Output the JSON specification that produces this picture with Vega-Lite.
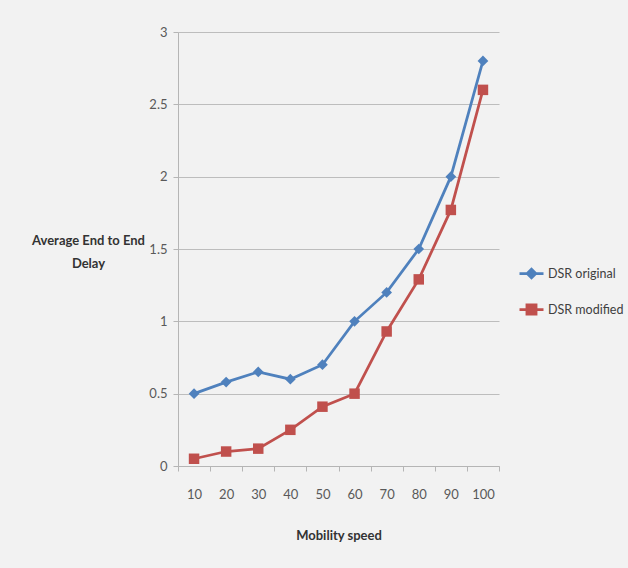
{
  "$schema": "https://vega.github.io/schema/vega-lite/v6.json",
  "width": 321,
  "height": 434,
  "autosize": {"type": "none"},
  "padding": {"left": 178, "top": 32, "right": 129, "bottom": 102},
  "background": "#f2f2f2",
  "config": {
    "view": {"stroke": null},
    "font": "Lato",
    "axis": {
      "domainColor": "#b5b5b5",
      "tickColor": "#b5b5b5",
      "gridColor": "#bdbdbd",
      "labelColor": "#595959",
      "labelFontSize": 13,
      "titleColor": "#333333",
      "titleFontSize": 13,
      "titleFontWeight": "bold",
      "tickSize": 5
    }
  },
  "data": {
    "values": [
      {"speed": 10, "series": "DSR original", "delay": 0.5},
      {"speed": 20, "series": "DSR original", "delay": 0.58},
      {"speed": 30, "series": "DSR original", "delay": 0.65},
      {"speed": 40, "series": "DSR original", "delay": 0.6},
      {"speed": 50, "series": "DSR original", "delay": 0.7},
      {"speed": 60, "series": "DSR original", "delay": 1.0},
      {"speed": 70, "series": "DSR original", "delay": 1.2},
      {"speed": 80, "series": "DSR original", "delay": 1.5},
      {"speed": 90, "series": "DSR original", "delay": 2.0},
      {"speed": 100, "series": "DSR original", "delay": 2.8},
      {"speed": 10, "series": "DSR modified", "delay": 0.05},
      {"speed": 20, "series": "DSR modified", "delay": 0.1},
      {"speed": 30, "series": "DSR modified", "delay": 0.12},
      {"speed": 40, "series": "DSR modified", "delay": 0.25},
      {"speed": 50, "series": "DSR modified", "delay": 0.41},
      {"speed": 60, "series": "DSR modified", "delay": 0.5},
      {"speed": 70, "series": "DSR modified", "delay": 0.93},
      {"speed": 80, "series": "DSR modified", "delay": 1.29},
      {"speed": 90, "series": "DSR modified", "delay": 1.77},
      {"speed": 100, "series": "DSR modified", "delay": 2.6}
    ]
  },
  "encoding": {
    "x": {
      "field": "speed",
      "type": "ordinal",
      "scale": {"type": "band", "paddingInner": 0, "paddingOuter": 0},
      "axis": {
        "labelAngle": 0,
        "labelPadding": 17,
        "tickBand": "extent",
        "grid": false,
        "title": "Mobility speed",
        "titlePadding": 28
      }
    },
    "y": {
      "field": "delay",
      "type": "quantitative",
      "scale": {"domain": [0, 3], "nice": false},
      "axis": {
        "values": [0, 0.5, 1, 1.5, 2, 2.5, 3],
        "labelExpr": "datum.value + ''",
        "labelPadding": 6,
        "grid": true,
        "title": ["Average End to End", "Delay"],
        "titleAngle": 0,
        "titleAlign": "center",
        "titleBaseline": "middle",
        "titleLineHeight": 23,
        "titleX": -90,
        "titleY": 208
      }
    },
    "color": {
      "field": "series",
      "type": "nominal",
      "scale": {"domain": ["DSR original", "DSR modified"], "range": ["#4f81bd", "#c0504d"]},
      "legend": {
        "title": null,
        "orient": "none",
        "legendX": 340,
        "legendY": 228,
        "symbolSize": 576,
        "symbolStrokeWidth": 2.5,
        "rowPadding": 12,
        "labelFontSize": 12.5,
        "labelColor": "#404040",
        "labelOffset": 3,
        "encode": {
          "symbols": {
            "update": {
              "shape": {"signal": "datum.value === 'DSR original' ? 'M-1,0L1,0M0,-0.36L0.36,0L0,0.36L-0.36,0Z' : 'M-1,0L1,0M-0.38,-0.38L0.38,-0.38L0.38,0.38L-0.38,0.38Z'"},
              "fill": {"signal": "datum.value === 'DSR original' ? '#4f81bd' : '#c0504d'"},
              "stroke": {"signal": "datum.value === 'DSR original' ? '#4f81bd' : '#c0504d'"},
              "strokeWidth": {"value": 2.75},
              "opacity": {"value": 1}
            }
          }
        }
      }
    }
  },
  "layer": [
    {
      "mark": {"type": "line", "strokeWidth": 2.75}
    },
    {
      "transform": [{"filter": "datum.series === 'DSR original'"}],
      "mark": {"type": "point", "shape": "diamond", "filled": true, "size": 115, "opacity": 1}
    },
    {
      "transform": [{"filter": "datum.series === 'DSR modified'"}],
      "mark": {"type": "point", "shape": "square", "filled": true, "size": 110, "opacity": 1}
    }
  ]
}
